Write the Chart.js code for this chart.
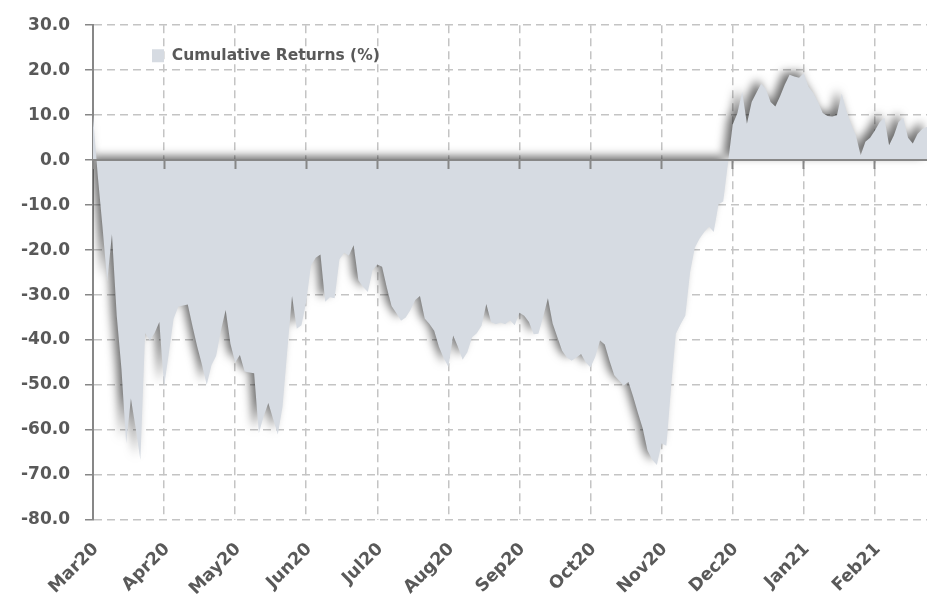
<!DOCTYPE html>
<html>
<head>
<meta charset="utf-8">
<script src="https://cdn.jsdelivr.net/npm/chart.js@4/dist/chart.umd.min.js"></script>
<style>
html,body{margin:0;padding:0;background:#ffffff;}
#wrap{width:927px;height:596px;}
</style>
</head>
<body>
<div id="wrap"><canvas id="c" width="927" height="596"></canvas></div>
<script>
// ---- data ----
const months = ['Mar20','Apr20','May20','Jun20','Jul20','Aug20','Sep20','Oct20','Nov20','Dec20','Jan21','Feb21'];
const pointsPerMonth = 15;
const seriesName = 'Cumulative Returns (%)';
const returns = [
  10, -3.4, -14.8, -27, -16.5, -34.5, -46.4, -63, -53, -59.5, -66.7, -38.5, -40.1, -38.4, -36,
  -50.4, -43, -35.3, -32.6, -32.3, -32.1, -36.9, -41.5, -45.5, -50, -45.6, -43.5, -37.8, -33.3, -40.8,
  -45, -43.3, -47, -47.2, -47.4, -60.7, -57, -54, -57.5, -61, -54.8, -42.4, -30.2, -37.5, -36.7,
  -31.5, -23.4, -21.7, -21, -31.5, -30.5, -30.7, -22.1, -20.6, -21.2, -18.9, -26.7, -28.2, -29.3, -24.5,
  -23.2, -23.7, -28.3, -32.4, -34, -35.7, -35, -33.3, -31.1, -30.2, -35.2, -36.4, -37.9, -41.5, -44,
  -46, -39, -41.5, -44.4, -42.7, -39.4, -38.5, -36.8, -32, -36, -36.5, -36.1, -36.5, -35.6, -36.7,
  -33.9, -34.6, -36, -38.7, -38.6, -34.8, -30.7, -36.3, -39.4, -42.4, -43.9, -44.6, -43.9, -43.1, -45,
  -46.1, -43.7, -40.1, -41, -44.6, -47.8, -49, -50.1, -49.3, -52.6, -56.2, -59.6, -64.5, -66.6, -67.8,
  -63, -63.5, -50.5, -38.6, -36.5, -34.6, -25, -19.5, -17.5, -16, -14.8, -16, -9.8, -9.2, -0.7,
  7.9, 10.5, 15.2, 8.1, 12.9, 15, 17, 15.8, 12.9, 11.9, 14.2, 16.8, 19, 18.6, 18.3,
  19.3, 16.3, 14.9, 12.9, 10.5, 9.8, 9.7, 10, 14.8, 11, 8, 5.5, 1.1, 4.1, 5,
  6.6, 8.4, 9.4, 3.3, 5.5, 8.5, 9.4, 5, 3.7, 5.8, 6.9, 7.4
];
const yMin = -80, yMax = 30, yStep = 10;

const labels = returns.map((_, i) => (i % pointsPerMonth === 0 ? months[i / pointsPerMonth] : ''));

// ---- styles ----
const TEXT = '#595959';
const GRID = '#c4c4c4';
const AXIS = '#878787';
const FILL = '#d6dbe2';
const FONT = 'DejaVu Sans';
const isMonth = (ctx) => ctx.index % pointsPerMonth === 0;

const areaShadow = {
  id: 'areaShadow',
  beforeDatasetsDraw(chart) {
    const c = chart.ctx;
    c.save();
    c.shadowColor = 'rgba(0,0,0,0.58)';
    c.shadowBlur = 10;
    c.shadowOffsetX = -5;
    c.shadowOffsetY = -4;
  },
  afterDatasetsDraw(chart) { chart.ctx.restore(); }
};

const legendPlacement = {
  id: 'legendPlacement',
  afterLayout(chart) {
    const lg = chart.legend;
    if (!lg) return;
    const pad = lg.options.labels.padding;
    lg.left = 152 - pad;
    lg.top = 48 - pad;
  }
};

new Chart(document.getElementById('c'), {
  type: 'line',
  data: {
    labels: labels,
    datasets: [{
      label: seriesName,
      data: returns,
      fill: 'origin',
      backgroundColor: FILL,
      borderColor: FILL,
      borderWidth: 0,
      pointRadius: 0,
      tension: 0
    }]
  },
  options: {
    responsive: false,
    animation: false,
    events: [],
    layout: { padding: { top: 25, right: 0, bottom: 0, left: 0 } },
    plugins: {
      tooltip: { enabled: false },
      legend: {
        position: 'chartArea',
        align: 'start',
        labels: {
          boxWidth: 12,
          boxHeight: 13,
          padding: 10,
          color: TEXT,
          font: { family: FONT, size: 15.5, weight: 'bold' }
        }
      }
    },
    scales: {
      x: {
        type: 'category',
        position: 'bottom',
        grid: {
          color: (ctx) => (isMonth(ctx) ? GRID : 'rgba(0,0,0,0)'),
          lineWidth: 1.5,
          drawTicks: false
        },
        border: { display: false, dash: [8, 5] },
        ticks: {
          autoSkip: false,
          minRotation: 45,
          maxRotation: 45,
          padding: 19,
          labelOffset: 3,
          color: TEXT,
          font: { family: FONT, size: 17.5, weight: 'bold' }
        },
        afterFit: (s) => { s.height = 76; s.paddingLeft = 0; s.paddingRight = 0; }
      },
      x2: {
        type: 'category',
        position: { y: 0 },
        grid: {
          drawOnChartArea: false,
          drawTicks: true,
          tickLength: 8,
          tickWidth: 2,
          tickColor: (ctx) => (isMonth(ctx) ? AXIS : 'rgba(0,0,0,0)'),
          z: 1
        },
        border: { display: true, color: AXIS, width: 2, z: 1 },
        ticks: { display: false, autoSkip: false }
      },
      y: {
        type: 'linear',
        min: yMin,
        max: yMax,
        ticks: {
          stepSize: yStep,
          padding: 15,
          color: TEXT,
          font: { family: FONT, size: 17, weight: 'bold' },
          callback: (v) => Number(v).toFixed(1)
        },
        grid: {
          color: GRID,
          lineWidth: 1.5,
          tickLength: 8,
          tickColor: AXIS,
          tickWidth: 1.5
        },
        border: { display: true, color: AXIS, width: 2, dash: [8, 5] },
        afterFit: (s) => { s.width = 93; }
      }
    }
  },
  plugins: [areaShadow, legendPlacement]
});
</script>
</body>
</html>
